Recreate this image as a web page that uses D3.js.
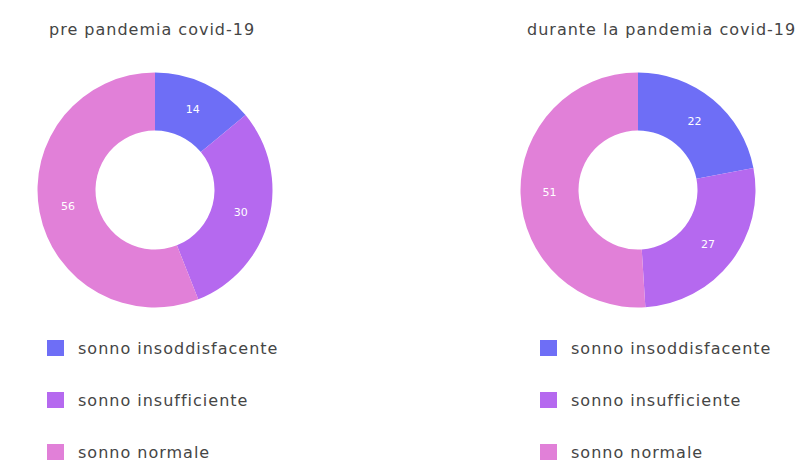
<!DOCTYPE html>
<html>
<head>
<meta charset="utf-8">
<script src="https://cdn.jsdelivr.net/npm/d3@7"></script>
<style>
  html, body { margin: 0; padding: 0; background: #ffffff; }
  svg { display: block; }
  text { font-family: "DejaVu Sans", sans-serif; }
</style>
</head>
<body>
<svg id="chart" width="798" height="464"></svg>
<script>
// Sleep quality categories and the share of each, before and during the pandemic
const categories = ["sonno insoddisfacente", "sonno insufficiente", "sonno normale"];
const preValues = [14, 30, 56];
const duranteValues = [22, 27, 51];
const titles = ["pre pandemia covid-19", "durante la pandemia covid-19"];
const palette = ["#6e6ef6", "#b569ef", "#e180d8"];

const svg = d3.select("#chart");
const color = d3.scaleOrdinal().domain(categories).range(palette);

const panels = [
  { title: titles[0], values: preValues, cx: 155, titleX: 49, legendX: 47 },
  { title: titles[1], values: duranteValues, cx: 638, titleX: 527, legendX: 540 }
];

const cy = 190;
const outerR = 117.5;
const innerR = 59.5;

const pie = d3.pie().sort(null).value(d => d.value);
const arc = d3.arc().innerRadius(innerR).outerRadius(outerR);

panels.forEach(p => {
  const g = svg.append("g");

  g.append("text")
    .attr("x", p.titleX)
    .attr("y", 35)
    .attr("font-size", 16)
    .attr("letter-spacing", 1.0)
    .attr("fill", "#454545")
    .text(p.title);

  const data = categories.map((c, i) => ({ category: c, value: p.values[i] }));
  const donut = g.append("g").attr("transform", `translate(${p.cx},${cy})`);

  const slices = donut.selectAll("g.slice")
    .data(pie(data))
    .join("g")
    .attr("class", "slice");

  slices.append("path")
    .attr("d", arc)
    .attr("fill", d => color(d.data.category));

  slices.append("text")
    .attr("transform", d => `translate(${arc.centroid(d)})`)
    .attr("text-anchor", "middle")
    .attr("dominant-baseline", "central")
    .attr("font-size", 11)
    .attr("fill", "#ffffff")
    .text(d => d.data.value);

  const legend = g.append("g").attr("transform", `translate(${p.legendX},0)`);
  const rowY = d3.scalePoint().domain(categories).range([348, 452]);

  const rows = legend.selectAll("g.row")
    .data(categories)
    .join("g")
    .attr("class", "row")
    .attr("transform", c => `translate(0,${rowY(c)})`);

  rows.append("rect")
    .attr("x", 0)
    .attr("y", -8)
    .attr("width", 17)
    .attr("height", 16)
    .attr("fill", c => color(c));

  rows.append("text")
    .attr("x", 31)
    .attr("y", 0)
    .attr("dominant-baseline", "central")
    .attr("font-size", 16)
    .attr("letter-spacing", 1.0)
    .attr("fill", "#454545")
    .text(c => c);
});
</script>
</body>
</html>
